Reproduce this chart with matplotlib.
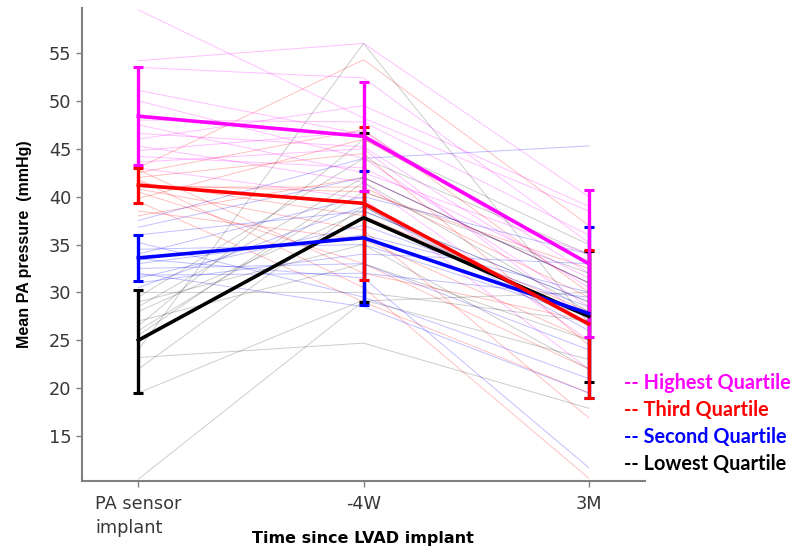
import matplotlib.pyplot as plt

# time points
times = ['PA sensor\nimplant', '-4W', '3M']
x = [1, 2, 3]

# individual patients per quartile (PA sensor, -4W, 3M)
hi_pa = [59.5, 54.2, 53.5, 51.1, 50.0, 48.0, 46.6, 46.0, 45.3, 44.8, 44.2, 43.6, 43.0, 47.5]
hi_4w = [48.2, 56.0, 52.4, 46.5, 44.0, 47.8, 45.2, 49.5, 41.5, 46.8, 43.0, 45.0, 39.8, 42.5]
hi_3m = [38.5, 40.0, 35.2, 33.0, 28.5, 36.0, 30.5, 39.0, 25.0, 32.0, 31.5, 27.0, 22.0, 34.0]

th_pa = [43.0, 42.5, 42.0, 41.8, 41.5, 41.0, 40.8, 40.5, 39.8, 39.5, 38.5, 38.0, 42.8, 41.2]
th_4w = [54.3, 47.0, 44.5, 30.5, 38.0, 41.0, 36.5, 33.0, 46.0, 29.0, 35.5, 42.0, 32.0, 40.5]
th_3m = [37.0, 30.0, 24.5, 10.6, 28.0, 29.5, 16.9, 22.0, 33.0, 19.5, 25.0, 31.0, 27.0, 32.5]

se_pa = [37.5, 36.8, 36.0, 35.2, 34.5, 34.0, 33.5, 33.0, 32.5, 32.0, 31.5, 31.0, 30.5, 31.8]
se_4w = [44.0, 42.0, 38.5, 29.5, 35.0, 40.0, 31.5, 36.0, 33.0, 28.5, 37.0, 34.0, 39.0, 32.0]
se_3m = [45.3, 31.0, 29.0, 21.0, 27.5, 34.0, 11.7, 30.0, 24.0, 19.5, 28.5, 33.0, 26.0, 29.5]

lo_pa = [10.5, 19.5, 23.2, 24.0, 25.5, 26.5, 27.0, 28.0, 28.5, 29.0, 29.5, 30.0, 26.0, 22.0]
lo_4w = [29.1, 29.2, 24.7, 56.0, 41.5, 46.0, 33.0, 38.5, 42.0, 35.0, 44.0, 30.0, 40.5, 39.0]
lo_3m = [30.0, 23.0, 17.9, 26.8, 28.0, 35.0, 25.0, 29.0, 31.0, 22.0, 34.0, 27.0, 32.0, 26.5]

# group means and error bar limits
hi_mean = [48.4, 46.3, 33.0]
hi_low = [43.3, 40.6, 25.3]
hi_high = [53.5, 52.0, 40.7]

th_mean = [41.2, 39.3, 26.7]
th_low = [39.3, 31.3, 19.0]
th_high = [43.0, 47.3, 34.4]

se_mean = [33.6, 35.7, 27.8]
se_low = [31.2, 28.7, 19.0]
se_high = [36.0, 42.7, 36.8]

lo_mean = [25.0, 37.8, 27.5]
lo_low = [19.5, 29.0, 20.6]
lo_high = [30.3, 46.6, 34.3]

labels = ['-- Highest Quartile', '-- Third Quartile', '-- Second Quartile', '-- Lowest Quartile']
colors = ['#ff00ff', '#ff0000', '#0000ff', '#000000']

fig = plt.figure(figsize=(7.97, 5.52), dpi=100)
ax = fig.add_axes([0.1029, 0.1286, 0.7064, 0.8569])

groups = [
    (hi_pa, hi_4w, hi_3m, hi_mean, hi_low, hi_high),
    (th_pa, th_4w, th_3m, th_mean, th_low, th_high),
    (se_pa, se_4w, se_3m, se_mean, se_low, se_high),
    (lo_pa, lo_4w, lo_3m, lo_mean, lo_low, lo_high),
]

# thin patient lines
for (pa, w4, m3, *_), c in zip(groups, colors):
    for a, b, d in zip(pa, w4, m3):
        ax.plot(x, [a, b, d], color=c, lw=0.7, alpha=0.25 if c != '#000000' else 0.2)

# bold means, drawn lowest first
for (pa, w4, m3, m, lo, hi), c in reversed(list(zip(groups, colors))):
    err = [[mm - l for mm, l in zip(m, lo)], [h - mm for mm, h in zip(m, hi)]]
    ax.errorbar(x, m, yerr=err, color=c, lw=2.6, elinewidth=2.4,
                capsize=3.5, capthick=2.2)

ax.set_xlim(0.75, 3.25)
ax.set_ylim(10.3, 59.7)
ax.set_yticks(range(15, 60, 5))
ax.set_xticks(x)
ax.set_xticklabels(times)
for t in ax.get_xticklabels():
    t.set_multialignment('left')
    t.set_linespacing(1.45)

for s in ['top', 'right']:
    ax.spines[s].set_visible(False)
for s in ['left', 'bottom']:
    ax.spines[s].set_color('#808080')
    ax.spines[s].set_linewidth(1.5)
ax.tick_params(colors='#808080', labelcolor='#383838', labelsize=12.8,
               length=4, width=1)
ax.tick_params(axis='x', pad=6)
for t in ax.get_xticklabels() + ax.get_yticklabels():
    t.set_family('DejaVu Sans')

ax.set_ylabel('Mean PA pressure  (mmHg)', fontsize=11.5, fontweight='bold',
              family='Liberation Sans', labelpad=12)
fig.text(0.455, 1 - 538 / 552, 'Time since LVAD implant', fontsize=11.5,
         fontweight='bold', family='DejaVu Sans', ha='center', va='center')

# quartile key to the right of the axes
for i, (lab, c) in enumerate(zip(labels, colors)):
    fig.text(0.783, 1 - (383 + i * 27) / 552, lab, color=c, fontsize=14.3,
             fontweight='bold', family='Lato', va='center', ha='left')

fig.savefig('out.png', dpi=100)
